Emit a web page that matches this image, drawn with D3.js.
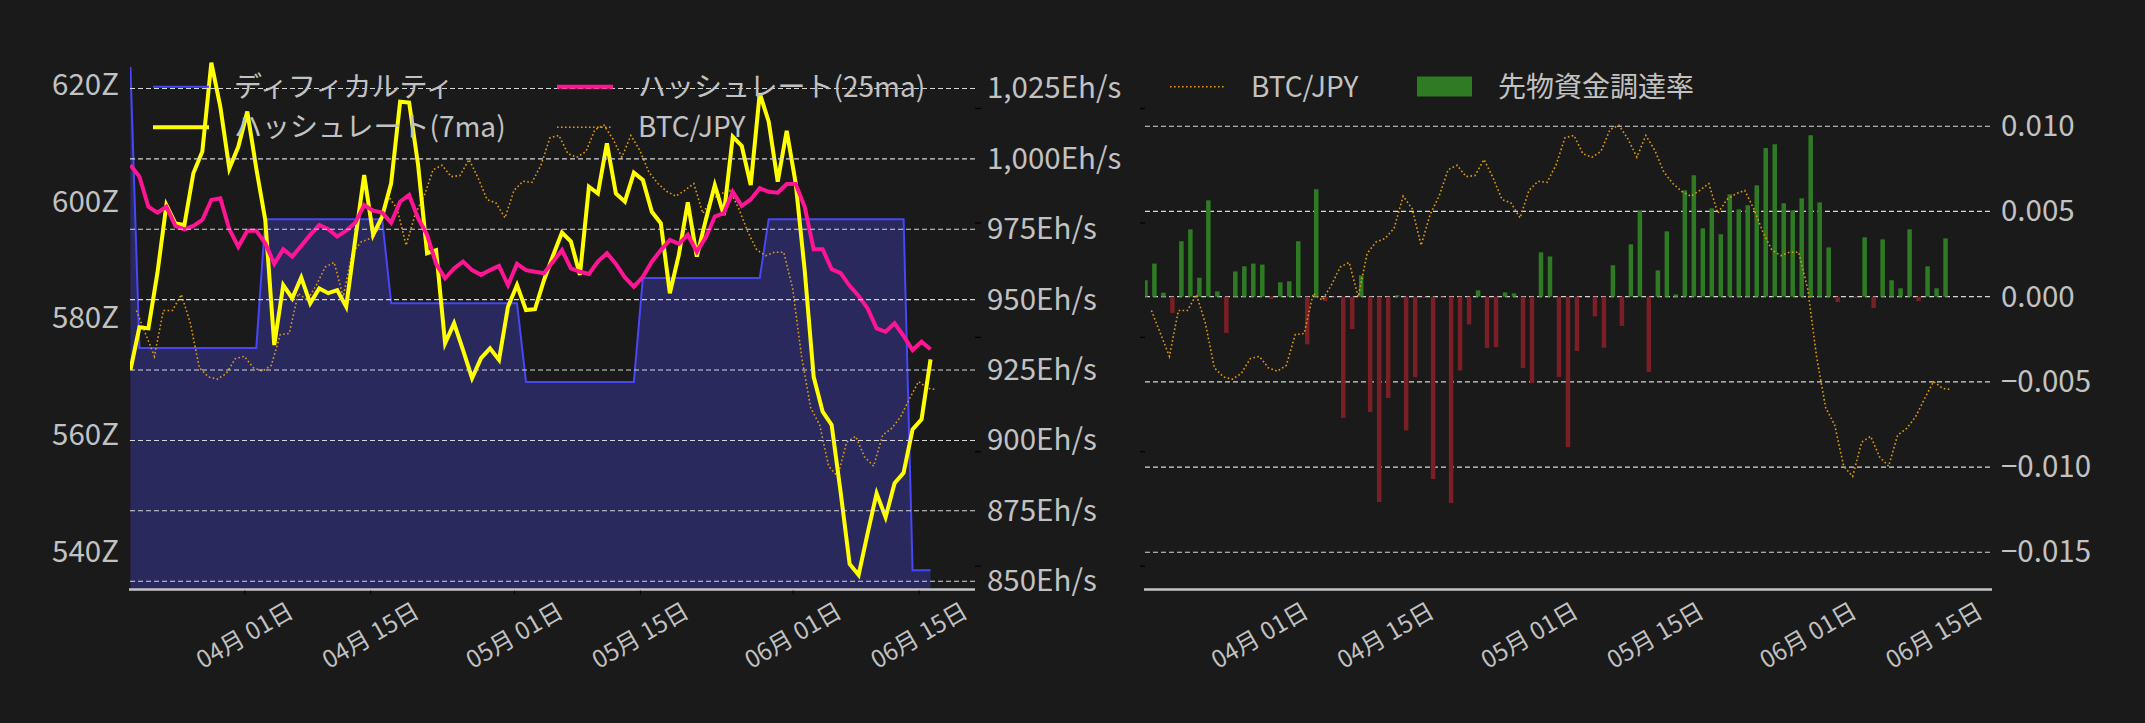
<!DOCTYPE html>
<html>
<head>
<meta charset="utf-8">
<script src="https://cdn.jsdelivr.net/npm/d3@7"></script>
<style>
  html, body { margin: 0; padding: 0; background: #1a1a1a; }
  svg { display: block; }
  text { font-family: "Noto Sans CJK JP", "Noto Sans", sans-serif; }
</style>
</head>
<body>
<svg id="chart" width="2145" height="723"></svg>
<script>
// daily series, hash data stamped 08:00 UTC, BTC/JPY at midnight
const hashStart = Date.UTC(2025, 2, 19, 8);
const btcStart = Date.UTC(2025, 2, 20);

// difficulty (Z hashes)
const difficulty = [
  623.1, 574.9, 574.9, 574.9, 574.9, 574.9, 574.9, 574.9, 574.9, 574.9,
  574.9, 574.9, 574.9, 574.9, 574.9, 597.0, 597.0, 597.0, 597.0, 597.0,
  597.0, 597.0, 597.0, 597.0, 597.0, 597.0, 597.0, 597.0, 597.0, 582.6,
  582.6, 582.6, 582.6, 582.6, 582.6, 582.6, 582.6, 582.6, 582.6, 582.6,
  582.6, 582.6, 582.6, 582.6, 569.1, 569.1, 569.1, 569.1, 569.1, 569.1,
  569.1, 569.1, 569.1, 569.1, 569.1, 569.1, 569.1, 586.9, 586.9, 586.9,
  586.9, 586.9, 586.9, 586.9, 586.9, 586.9, 586.9, 586.9, 586.9, 586.9,
  586.9, 597.0, 597.0, 597.0, 597.0, 597.0, 597.0, 597.0, 597.0, 597.0,
  597.0, 597.0, 597.0, 597.0, 597.0, 597.0, 597.0, 536.8, 536.8, 536.8,
];

// hash rate 7-day MA (Eh/s)
const hash7 = [
  925.0, 940.2, 939.8, 959.4, 983.6, 977.1, 976.5, 994.9, 1002.6, 1034.2,
  1018.5, 996.6, 1004.3, 1016.8, 996.6, 978.3, 933.9, 955.2, 950.5, 957.9,
  948.7, 954.0, 952.3, 953.4, 947.5, 971.2, 994.3, 973.0, 979.5, 991.3,
  1020.3, 1020.0, 997.8, 966.5, 967.6, 934.5, 941.6, 932.1, 922.1, 929.2,
  932.7, 928.6, 947.5, 955.2, 946.3, 946.6, 956.9, 965.6, 973.8, 970.6,
  958.8, 990.1, 987.7, 1005.5, 987.7, 984.8, 995.1, 992.5, 981.2, 977.1,
  952.3, 965.9, 984.6, 965.3, 978.3, 990.7, 980.1, 1007.9, 1004.6, 990.7,
  1023.3, 1013.2, 991.9, 1010.0, 991.3, 960.5, 922.6, 910.2, 905.5, 881.6,
  856.1, 852.2, 867.0, 881.2, 872.7, 884.8, 888.5, 903.9, 907.5, 928.8,
];

// hash rate 25-day MA (Eh/s)
const hash25 = [
  997.8, 993.7, 983.0, 980.9, 983.0, 976.2, 975.0, 976.2, 978.3, 985.4,
  986.0, 975.0, 968.8, 974.5, 974.5, 970.0, 962.7, 967.9, 965.3, 969.1,
  973.0, 976.5, 975.0, 972.4, 974.5, 977.3, 983.6, 981.6, 980.9, 977.3,
  984.8, 987.2, 978.9, 973.0, 962.7, 957.6, 961.1, 963.5, 960.5, 958.8,
  960.5, 962.0, 955.2, 962.7, 960.5, 959.9, 959.4, 963.5, 967.6, 961.1,
  959.9, 959.1, 963.5, 966.5, 962.7, 957.9, 954.6, 958.1, 963.5, 967.6,
  971.2, 969.8, 973.0, 967.0, 972.1, 979.5, 980.7, 988.3, 983.3, 985.6,
  989.6, 988.3, 988.0, 991.1, 991.1, 983.0, 967.9, 967.9, 960.8, 959.4,
  954.9, 951.3, 946.9, 939.8, 938.6, 941.6, 937.1, 932.1, 935.1, 932.4,
];

// BTC/JPY (million JPY)
const btcJpy = [
  14.23, 14.03, 13.83, 14.23, 14.23, 14.37, 14.12, 13.73, 13.65, 13.63,
  13.68, 13.81, 13.83, 13.73, 13.70, 13.75, 14.02, 14.03, 14.38, 14.32,
  14.45, 14.61, 14.65, 14.35, 14.73, 14.83, 14.86, 14.95, 15.23, 15.12,
  14.80, 15.07, 15.23, 15.46, 15.50, 15.40, 15.41, 15.55, 15.39, 15.20,
  15.17, 15.04, 15.28, 15.36, 15.35, 15.50, 15.74, 15.76, 15.60, 15.57,
  15.62, 15.81, 15.85, 15.73, 15.57, 15.76, 15.63, 15.44, 15.34, 15.27,
  15.23, 15.28, 15.34, 15.08, 15.20, 15.25, 15.28, 15.12, 14.92, 14.76,
  14.71, 14.74, 14.74, 14.42, 13.82, 13.38, 13.23, 12.87, 12.78, 13.08,
  13.13, 12.95, 12.87, 13.14, 13.20, 13.30, 13.46, 13.61, 13.55, 13.54,
];

// futures funding rate
const funding = [
  0.00096, 0.00194, 0.00023, -0.00096, 0.00325, 0.00395, 0.00111, 0.00565, 0.00031, -0.00213,
  0.00148, 0.00178, 0.00194, 0.00188, -0.00014, 0.00084, 0.00090, 0.00325, -0.00280, 0.00630,
  -0.00026, -0.00005, -0.00712, -0.00190, 0.00125, -0.00677, -0.01205, -0.00595, 0.00008, -0.00785,
  -0.00472, -0.00006, -0.01070, -0.00006, -0.01211, -0.00433, -0.00163, 0.00037, -0.00301, -0.00296,
  0.00025, 0.00019, -0.00419, -0.00507, 0.00260, 0.00236, -0.00472, -0.00883, -0.00319, 0.00000,
  -0.00116, -0.00300, 0.00184, -0.00172, 0.00307, 0.00506, -0.00442, 0.00154, 0.00383, 0.00013,
  0.00624, 0.00712, 0.00401, 0.00518, 0.00366, 0.00600, 0.00512, 0.00536, 0.00653, 0.00872,
  0.00894, 0.00548, 0.00506, 0.00577, 0.00947, 0.00553, 0.00289, -0.00032, 0.00000, -0.00008,
  0.00348, -0.00067, 0.00336, 0.00096, 0.00049, 0.00395, -0.00026, 0.00178, 0.00049, 0.00342,
];

const dateTicks = [
  Date.UTC(2025, 3, 1), Date.UTC(2025, 3, 15), Date.UTC(2025, 4, 1),
  Date.UTC(2025, 4, 15), Date.UTC(2025, 5, 1), Date.UTC(2025, 5, 15),
];
const diffTicks = [540, 560, 580, 600, 620];
const hashTicks = [850, 875, 900, 925, 950, 975, 1000, 1025];
const fundTicks = [-0.015, -0.010, -0.005, 0.000, 0.005, 0.010];
const btcTicks = [12, 13, 14, 15, 16];

const hashDates = difficulty.map((_, i) => d3.utcDay.offset(new Date(hashStart), i));
const btcDates = btcJpy.map((_, i) => d3.utcDay.offset(new Date(btcStart), i));

const textColor = '#c2c2c2';
const gridColor = '#d6d6d6';
const baseY = 589.5;
const tickFont = 29.5;
const legendFont = 28;
const dateFont = 24;

const svg = d3.select('#chart');
svg.append('rect').attr('width', 2145).attr('height', 723).attr('fill', '#1a1a1a');

const panelL = { left: 130, right: 975 };
const panelR = { left: 1145, right: 1990 };

// shared scales
const xL = d3.scaleUtc()
  .domain([Date.UTC(2025, 3, 1), Date.UTC(2025, 5, 1)])
  .range([244.3, 792.7]);
const xR = xL.copy().range([244.3 + 1015, 792.7 + 1015]);
const yDiff = d3.scaleLinear().domain([540, 620]).range([551.7, 85]);
const yHash = d3.scaleLinear().domain([850, 1025]).range([581.2, 88.5]);
const yBtc = d3.scaleLinear().domain([12, 16]).range([565.7, 108]);
const yFund = d3.scaleLinear().domain([-0.015, 0.010]).range([552.3, 126.2]);

const defs = svg.append('defs');
[['clipL', panelL], ['clipR', panelR]].forEach(([id, p]) => {
  defs.append('clipPath').attr('id', id)
    .append('rect')
      .attr('x', p.left)
      .attr('y', 0)
      .attr('width', p.right - p.left)
      .attr('height', baseY);
});

function gridlines(g, p, ticks, y) {
  g.selectAll('line.grid')
    .data(ticks)
    .join('line')
      .attr('class', 'grid')
      .attr('x1', p.left)
      .attr('x2', p.right)
      .attr('y1', (d) => y(d))
      .attr('y2', (d) => y(d))
      .attr('stroke', gridColor)
      .attr('stroke-width', 1.1)
      .attr('stroke-dasharray', '5,3');
}

function styleAxis(g, size) {
  g.select('.domain').remove();
  g.attr('font-size', size)
    .attr('font-family', null);
  g.selectAll('text').attr('fill', textColor);
}

function rotateDates(g) {
  g.selectAll('text')
    .attr('y', 0).attr('dy', null)
    .attr('text-anchor', 'middle')
    .attr('dominant-baseline', 'central')
    .attr('transform', 'translate(-1,43) rotate(-30)');
}

/* ---------- left panel ---------- */
const left = svg.append('g');
const plotL = left.append('g').attr('clip-path', 'url(#clipL)');

plotL.append('path')
  .datum(difficulty)
  .attr('fill', '#29295d')
  .attr('d', d3.area()
    .x((d, i) => xL(hashDates[i]))
    .y0(baseY)
    .y1((d) => yDiff(d)));

plotL.append('path')
  .datum(difficulty)
  .attr('fill', 'none')
  .attr('stroke', '#4747f5')
  .attr('stroke-width', 2)
  .attr('d', d3.line()
    .x((d, i) => xL(hashDates[i]))
    .y((d) => yDiff(d)));

gridlines(left, panelL, hashTicks, yHash);

plotL.append('path')
  .datum(btcJpy)
  .attr('fill', 'none')
  .attr('stroke', '#e09a16')
  .attr('stroke-width', 1.6)
  .attr('stroke-dasharray', '1.6,2.4')
  .attr('d', d3.line()
    .x((d, i) => xL(btcDates[i]))
    .y((d) => yBtc(d)));

plotL.append('path')
  .datum(hash7)
  .attr('fill', 'none')
  .attr('stroke', '#ffff00')
  .attr('stroke-width', 4)
  .attr('d', d3.line()
    .x((d, i) => xL(hashDates[i]))
    .y((d) => yHash(d)));

plotL.append('path')
  .datum(hash25)
  .attr('fill', 'none')
  .attr('stroke', '#ff1493')
  .attr('stroke-width', 4)
  .attr('d', d3.line()
    .x((d, i) => xL(hashDates[i]))
    .y((d) => yHash(d)));

// bottom spine
left.append('line')
  .attr('x1', panelL.left - 1).attr('x2', panelL.right)
  .attr('y1', baseY).attr('y2', baseY)
  .attr('stroke', '#c4c4c4').attr('stroke-width', 2.5);

const xAxisL = left.append('g')
  .attr('transform', `translate(0,${baseY + 1})`)
  .call(d3.axisBottom(xL).tickValues(dateTicks).tickFormat(d3.utcFormat('%m月 %d日')).tickSize(4));
styleAxis(xAxisL, dateFont);
xAxisL.selectAll('line').attr('stroke', '#000');
rotateDates(xAxisL);

const yAxisDiff = left.append('g')
  .attr('transform', `translate(${panelL.left},0)`)
  .call(d3.axisLeft(yDiff).tickValues(diffTicks).tickFormat((d) => `${d}Z`).tickSize(0).tickPadding(11));
styleAxis(yAxisDiff, tickFont);

const yAxisHash = left.append('g')
  .attr('transform', `translate(${panelL.right},0)`)
  .call(d3.axisRight(yHash).tickValues(hashTicks).tickFormat((d) => `${d3.format(',')(d)}Eh/s`).tickSize(0).tickPadding(12));
styleAxis(yAxisHash, tickFont);

const btcAxisL = left.append('g')
  .attr('transform', `translate(${panelL.right},0)`)
  .call(d3.axisRight(yBtc).tickValues(btcTicks).tickFormat('').tickSize(6));
btcAxisL.select('.domain').remove();
btcAxisL.selectAll('line').attr('stroke', '#000').attr('stroke-width', 1.2);

/* ---------- right panel ---------- */
const right = svg.append('g');
gridlines(right, panelR, fundTicks, yFund);

const plotR = right.append('g').attr('clip-path', 'url(#clipR)');
const barW = xR(d3.utcHour.offset(hashDates[0], 12)) - xR(hashDates[0]);

plotR.selectAll('rect.bar')
  .data(funding)
  .join('rect')
    .attr('class', 'bar')
    .attr('x', (d, i) => xR(hashDates[i]) - barW / 2)
    .attr('width', barW)
    .attr('y', (d) => yFund(Math.max(0, d)))
    .attr('height', (d) => Math.abs(yFund(d) - yFund(0)))
    .attr('fill', (d) => (d >= 0 ? '#2e7b24' : '#7a1f25'));

plotR.append('path')
  .datum(btcJpy)
  .attr('fill', 'none')
  .attr('stroke', '#e09a16')
  .attr('stroke-width', 1.6)
  .attr('stroke-dasharray', '1.6,2.4')
  .attr('d', d3.line()
    .x((d, i) => xR(btcDates[i]))
    .y((d) => yBtc(d)));

right.append('line')
  .attr('x1', panelR.left - 1).attr('x2', panelR.right + 2)
  .attr('y1', baseY).attr('y2', baseY)
  .attr('stroke', '#c4c4c4').attr('stroke-width', 2.5);

const xAxisR = right.append('g')
  .attr('transform', `translate(0,${baseY + 1})`)
  .call(d3.axisBottom(xR).tickValues(dateTicks).tickFormat(d3.utcFormat('%m月 %d日')).tickSize(0));
styleAxis(xAxisR, dateFont);
rotateDates(xAxisR);

const yAxisFund = right.append('g')
  .attr('transform', `translate(${panelR.right},0)`)
  .call(d3.axisRight(yFund).tickValues(fundTicks).tickFormat(d3.format('.3f')).tickSize(0).tickPadding(11));
styleAxis(yAxisFund, tickFont);

const btcAxisR = right.append('g')
  .attr('transform', `translate(${panelR.left},0)`)
  .call(d3.axisLeft(yBtc).tickValues(btcTicks).tickFormat('').tickSize(5));
btcAxisR.select('.domain').remove();
btcAxisR.selectAll('line').attr('stroke', '#000').attr('stroke-width', 1.2);

/* ---------- legends ---------- */
const legendItems = [
  { label: 'ディフィカルティ', x: 153, y: 86.7, stroke: '#4747f5', width: 2 },
  { label: 'ハッシュレート(7ma)', x: 153, y: 127.3, stroke: '#ffff00', width: 4 },
  { label: 'ハッシュレート(25ma)', x: 557, y: 86.7, stroke: '#ff1493', width: 4 },
  { label: 'BTC/JPY', x: 557, y: 127.3, stroke: '#e09a16', width: 1.6, dash: '1.6,2.4' },
  { label: 'BTC/JPY', x: 1170, y: 86.7, stroke: '#e09a16', width: 1.6, dash: '1.6,2.4' },
];

const legend = svg.append('g');
legend.selectAll('line')
  .data(legendItems)
  .join('line')
    .attr('x1', (d) => d.x)
    .attr('x2', (d) => d.x + 56)
    .attr('y1', (d) => d.y)
    .attr('y2', (d) => d.y)
    .attr('stroke', (d) => d.stroke)
    .attr('stroke-width', (d) => d.width)
    .attr('stroke-dasharray', (d) => d.dash || null);
legend.selectAll('text')
  .data(legendItems)
  .join('text')
    .attr('x', (d) => d.x + 81)
    .attr('y', (d) => d.y)
    .attr('dy', '0.35em')
    .attr('font-size', legendFont)
    .attr('fill', textColor)
    .text((d) => d.label);

legend.append('rect')
  .attr('x', 1417).attr('y', 76.5)
  .attr('width', 55).attr('height', 20)
  .attr('fill', '#2e7b24');
legend.append('text')
  .attr('x', 1498).attr('y', 86.7)
  .attr('dy', '0.35em')
  .attr('font-size', legendFont)
  .attr('fill', textColor)
  .text('先物資金調達率');
</script>
</body>
</html>
